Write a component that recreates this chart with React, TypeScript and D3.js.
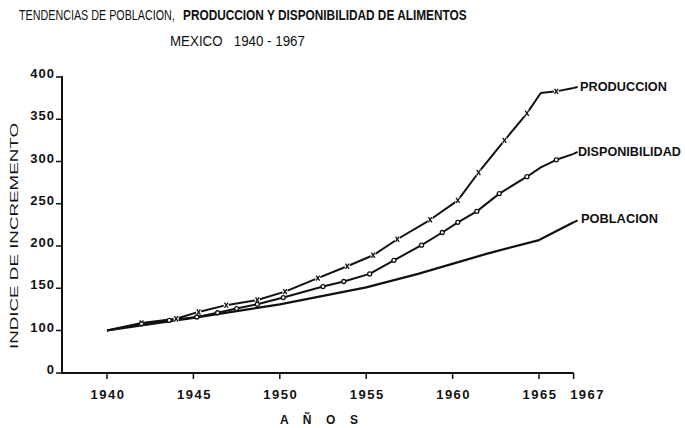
import React, { useLayoutEffect, useRef, useState } from "react";
import * as d3 from "d3";

// Data (index, 1940 = 100)
const produccionYears = [1940, 1942, 1944, 1945.3, 1946.9, 1948.7, 1950.3, 1952.2, 1953.9, 1955.4, 1956.8, 1958.7, 1960.3, 1961.5, 1963, 1964.3, 1965.1, 1966, 1967];
const produccionValues = [100, 109, 114, 122, 130, 136, 146, 162, 176, 189, 208, 231, 254, 287, 325, 357, 381, 383, 387];

const disponibilidadYears = [1940, 1942, 1943.6, 1945.2, 1946.4, 1947.5, 1948.7, 1950.2, 1952.5, 1953.7, 1955.2, 1956.6, 1958.2, 1959.4, 1960.3, 1961.4, 1962.7, 1964.3, 1965.1, 1966, 1967];
const disponibilidadValues = [100, 108, 112, 116, 121, 126, 131, 139, 152, 158, 167, 183, 201, 216, 228, 241, 262, 282, 293, 302, 309];

const poblacionYears = [1940, 1945, 1950, 1955, 1958, 1962, 1965, 1967];
const poblacionValues = [100, 115, 131, 151, 167, 191, 207, 228];

const yTicks = [0, 100, 150, 200, 250, 300, 350, 400];
const xTicks = [1940, 1945, 1950, 1955, 1960, 1965, 1967];

const seriesLabels = ["PRODUCCION", "DISPONIBILIDAD", "POBLACION"];

const title1 = "TENDENCIAS DE POBLACION,";
const title2 = "PRODUCCION Y DISPONIBILIDAD DE ALIMENTOS";
const subtitle = "MEXICO\u00A0\u00A0 1940 - 1967";
const yTitle = "INDICE  DE  INCREMENTO";
const xTitle = "A Ñ O S";

const W = 685;
const H = 428;
const FONT = "'Liberation Sans', Arial, sans-serif";

type FitProps = {
  x: number;
  y: number;
  width: number;
  fontSize: number;
  fontWeight?: string;
  children: string;
};

// Text squeezed horizontally (via transform) to a target width
function FitText({ x, y, width, fontSize, fontWeight, children }: FitProps) {
  const ref = useRef<SVGTextElement>(null);
  const [s, setS] = useState(1);
  useLayoutEffect(() => {
    if (ref.current) {
      const w = ref.current.getComputedTextLength();
      if (w > 0) setS(width / w);
    }
  }, [width, children, fontSize]);
  return (
    <text
      ref={ref}
      transform={`translate(${x},${y}) scale(${s},1)`}
      x={0}
      y={0}
      fontSize={fontSize}
      fontWeight={fontWeight || "normal"}
      fill="#111"
    >
      {children}
    </text>
  );
}

export default function App() {
  const x = d3.scaleLinear().domain([1940, 1967]).range([107, 573.6]);
  const y = d3.scaleLinear().domain([0, 100, 400]).range([373, 330.5, 77]);

  const pts = (ys: number[], vs: number[]) => ys.map((yr, i) => [x(yr), y(vs[i])] as [number, number]);

  const prod = pts(produccionYears, produccionValues);
  const disp = pts(disponibilidadYears, disponibilidadValues);
  const pob = pts(poblacionYears, poblacionValues);

  const lineLin = d3.line().curve(d3.curveLinear);

  const axisX0 = 62;
  const axisY0 = y(0);

  // markers: skip first, last, and the 1965 corner
  const prodMarkers = prod.filter((_, i) => i > 0 && i < prod.length - 1 && produccionYears[i] !== 1965.1);
  const dispMarkers = disp.filter((_, i) => i > 0 && i < disp.length - 1 && disponibilidadYears[i] !== 1965.1);

  const lastProd = prod[prod.length - 1];
  const lastDisp = disp[disp.length - 1];
  const lastPob = pob[pob.length - 1];

  return (
    <svg width={W} height={H} style={{ position: "absolute", left: 0, top: 0, background: "#fff" }} fontFamily={FONT}>
      <rect x={0} y={0} width={W} height={H} fill="#fff" />
      {/* Titles */}
      <FitText x={19} y={20} width={156} fontSize={14}>{title1}</FitText>
      <FitText x={183} y={20} width={284} fontSize={14} fontWeight="bold">{title2}</FitText>
      <FitText x={170} y={46} width={135} fontSize={15}>{subtitle}</FitText>

      {/* Y axis title */}
      <text
        transform={`translate(18,${236}) rotate(-90)`}
        textAnchor="middle"
        fontSize={11}
        fill="#111"
        textLength={226}
        lengthAdjust="spacingAndGlyphs"
      >
        {yTitle}
      </text>

      {/* Axes */}
      <line x1={axisX0} y1={y(400) - 1} x2={axisX0} y2={axisY0} stroke="#111" strokeWidth={2} />
      <line x1={axisX0 - 1} y1={axisY0} x2={x(1967)} y2={axisY0} stroke="#111" strokeWidth={2} />
      {yTicks.map((t) => (
        <g key={"yt" + t}>
          <line x1={axisX0 - 6} x2={axisX0} y1={y(t)} y2={y(t)} stroke="#111" strokeWidth={1.5} />
          <text x={axisX0 - 7} y={y(t) + 1} textAnchor="end" fontSize={13} fontWeight="bold" fill="#111" letterSpacing={1}>
            {t}
          </text>
        </g>
      ))}
      {xTicks.map((t) => (
        <g key={"xt" + t}>
          <line x1={x(t)} x2={x(t)} y1={axisY0} y2={axisY0 + 6} stroke="#111" strokeWidth={1.5} />
          <text x={x(t) + (t === 1967 ? 14 : 1)} y={399} textAnchor="middle" fontSize={13} fontWeight="bold" fill="#111" letterSpacing={1.5}>
            {t}
          </text>
        </g>
      ))}
      <text x={280} y={424} fontSize={12} fontWeight="bold" fill="#111" textLength={78} lengthAdjust="spacing">
        {xTitle}
      </text>

      {/* Lines */}
      <path d={lineLin(pob) || ""} fill="none" stroke="#111" strokeWidth={2.2} strokeLinejoin="round" />
      <path d={lineLin(disp) || ""} fill="none" stroke="#111" strokeWidth={2} strokeLinejoin="round" />
      <path d={lineLin(prod) || ""} fill="none" stroke="#111" strokeWidth={2} strokeLinejoin="round" />

      {/* Leaders to labels */}
      <line x1={lastProd[0]} y1={lastProd[1]} x2={lastProd[0] + 4} y2={lastProd[1] - 1} stroke="#111" strokeWidth={2} />
      <line x1={lastDisp[0]} y1={lastDisp[1]} x2={lastDisp[0] + 4} y2={lastDisp[1] - 2} stroke="#111" strokeWidth={2} />
      <line x1={lastPob[0]} y1={lastPob[1]} x2={lastPob[0] + 4} y2={lastPob[1] - 2} stroke="#111" strokeWidth={2} />

      {/* Markers */}
      {prodMarkers.map(([px, py], i) => (
        <g key={"pm" + i}>
          <rect x={px - 2.5} y={py - 3} width={5} height={6} fill="#fff" />
          <line x1={px - 1.8} y1={py - 2.6} x2={px + 1.8} y2={py + 2.6} stroke="#111" strokeWidth={1.3} />
          <line x1={px + 1.8} y1={py - 2.6} x2={px - 1.8} y2={py + 2.6} stroke="#111" strokeWidth={1.3} />
        </g>
      ))}
      {dispMarkers.map(([px, py], i) => (
        <circle key={"dm" + i} cx={px} cy={py} r={2} fill="#fff" stroke="#111" strokeWidth={1.3} />
      ))}

      {/* Series labels */}
      <FitText x={580} y={91} width={87} fontSize={13} fontWeight="bold">{seriesLabels[0]}</FitText>
      <FitText x={578} y={155.5} width={103} fontSize={13} fontWeight="bold">{seriesLabels[1]}</FitText>
      <FitText x={581} y={223} width={77} fontSize={13} fontWeight="bold">{seriesLabels[2]}</FitText>
    </svg>
  );
}
